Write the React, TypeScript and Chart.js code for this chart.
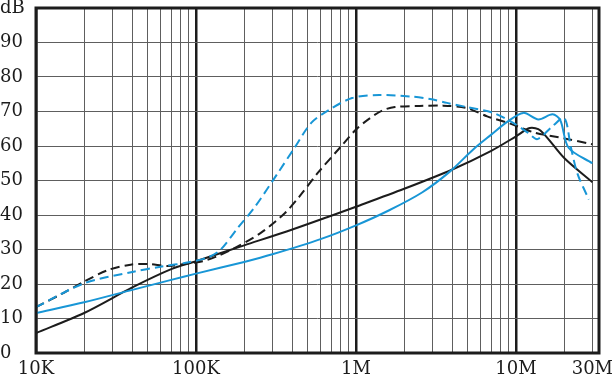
import React, { useEffect, useRef } from "react";
import { Chart, registerables } from "chart.js";

Chart.register(...registerables);

// Frequency axis (Hz) and tick labels
const xMin = 1e4;
const xMax = 3.3e7;
const xTickValues = [
  1e4, 2e4, 3e4, 4e4, 5e4, 6e4, 7e4, 8e4, 9e4,
  1e5, 2e5, 3e5, 4e5, 5e5, 6e5, 7e5, 8e5, 9e5,
  1e6, 2e6, 3e6, 4e6, 5e6, 6e6, 7e6, 8e6, 9e6,
  1e7, 2e7, 3e7,
];
const xLabelValues = [1e4, 1e5, 1e6, 1e7, 3e7];
const xLabelTexts = ["10K", "100K", "1M", "10M", "30M"];
const decadeValues = [1e4, 1e5, 1e6, 1e7];

// dB axis
const yMin = 0;
const yMax = 100;
const yStep = 10;
const yTopLabel = "dB";

// Series: black solid
const blackSolidFreq = [1e4, 2e4, 4e4, 7e4, 1e5, 2e5, 4e5, 7e5, 1e6, 2e6, 4e6, 7e6, 1e7, 1.22e7, 1.42e7, 2e7, 3e7];
const blackSolidDb = [5.8, 11.6, 19, 24.3, 26.6, 31.2, 35.8, 39.8, 42.4, 47.6, 53.2, 58.6, 62.8, 65.2, 64.5, 56.5, 49.5];

// Series: black dashed
const blackDashFreq = [1e4, 1.5e4, 2e4, 2.8e4, 3.9e4, 5e4, 6.8e4, 9e4, 1.1e5, 1.35e5, 1.74e5, 2.54e5, 3.6e5, 4.4e5, 5.82e5, 8e5, 1e6, 1.2e6, 1.46e6, 1.75e6, 2.5e6, 3.5e6, 4.9e6, 6.6e6, 9.2e6, 1.3e7, 2e7, 3e7];
const blackDashDb = [13.3, 17.5, 20.7, 24, 25.6, 25.8, 25.2, 26, 26.6, 28, 30.4, 34.8, 40.6, 45.2, 52.4, 59.7, 64.8, 67.8, 70.3, 71.3, 71.6, 71.7, 71, 68.6, 66.5, 63.9, 62.2, 60.5];

// Series: blue solid
const blueSolidFreq = [1e4, 2e4, 4e4, 7e4, 1e5, 2e5, 3e5, 6e5, 1e6, 1.6e6, 2.6e6, 3.84e6, 5.4e6, 7e6, 8.8e6, 1.11e7, 1.38e7, 1.69e7, 1.89e7, 2.13e7, 3e7];
const blueSolidDb = [11.6, 14.7, 18.3, 21.2, 23, 26.4, 28.6, 33, 37, 41.3, 46.6, 52.5, 59, 63.3, 67, 69.6, 67.7, 69.2, 67.5, 59.5, 55];

// Series: blue dashed
const blueDashFreq = [1e4, 2e4, 4e4, 6e4, 9e4, 1.2e5, 1.42e5, 1.82e5, 2.33e5, 3.25e5, 4.16e5, 5.25e5, 6.75e5, 9.45e5, 1.4e6, 2.25e6, 2.9e6, 3.7e6, 4.9e6, 7.2e6, 9.6e6, 1.19e7, 1.36e7, 1.67e7, 2e7, 2.2e7, 2.42e7, 2.85e7];
const blueDashDb = [13.3, 20.2, 23.5, 25, 26.3, 27.8, 29.9, 36.2, 42.3, 52.2, 59.7, 66.7, 70.4, 73.9, 74.8, 74.3, 73.6, 72.5, 71.3, 69.6, 66.7, 63.8, 62, 65.5, 68.1, 59.7, 52, 44.5];

const BLACK = "#1c1c1c";
const BLUE = "#1896d6";
const FONT = "'DejaVu Serif', 'Liberation Serif', serif";

const toPoints = (xs: number[], ys: number[]) => xs.map((x, i) => ({ x, y: ys[i] }));

const isDecade = (v: number | undefined) =>
  v !== undefined && decadeValues.some((d) => Math.abs(d - v) / d < 1e-6);

const framePlugin = {
  id: "frame",
  afterDatasetsDraw(chart: any) {
    const { ctx, chartArea } = chart;
    ctx.save();
    ctx.strokeStyle = BLACK;
    ctx.lineWidth = 3;
    ctx.strokeRect(chartArea.left, chartArea.top, chartArea.right - chartArea.left, chartArea.bottom - chartArea.top);
    ctx.restore();
  },
};

export default function App() {
  const ref = useRef<HTMLCanvasElement | null>(null);

  useEffect(() => {
    if (!ref.current) return;
    const line = (data: any, color: string, dashed: boolean) => ({
      data,
      borderColor: color,
      borderWidth: 2,
      borderDash: dashed ? [9, 5] : [],
      pointRadius: 0,
      fill: false,
      tension: 0.3,
    });
    const chart = new Chart(ref.current, {
      type: "line",
      data: {
        datasets: [
          line(toPoints(blueSolidFreq, blueSolidDb), BLUE, false),
          line(toPoints(blueDashFreq, blueDashDb), BLUE, true),
          line(toPoints(blackDashFreq, blackDashDb), BLACK, true),
          line(toPoints(blackSolidFreq, blackSolidDb), BLACK, false),
        ],
      },
      options: {
        animation: false,
        responsive: false,
        events: [],
        layout: { padding: { top: 8, right: 13, bottom: 0, left: 0 } },
        plugins: { legend: { display: false }, tooltip: { enabled: false } },
        scales: {
          x: {
            type: "logarithmic",
            min: xMin,
            max: xMax,
            border: { display: false },
            grid: {
              drawTicks: false,
              color: (c: any) => (isDecade(c.tick?.value) ? BLACK : "#5e5e5e"),
              lineWidth: (c: any) => (isDecade(c.tick?.value) ? 2.5 : 1),
            },
            afterBuildTicks: (axis: any) => {
              axis.ticks = xTickValues.map((v) => ({ value: v }));
            },
            afterFit: (axis: any) => {
              axis.height = 22;
              axis.paddingLeft = 0;
              axis.paddingRight = 0;
            },
            ticks: {
              autoSkip: false,
              maxRotation: 0,
              minRotation: 0,
              padding: 6,
              color: BLACK,
              font: { family: FONT, size: 18 },
              callback: (v: any) => {
                const i = xLabelValues.findIndex((d) => Math.abs(d - Number(v)) / d < 1e-6);
                return i >= 0 ? xLabelTexts[i] : "";
              },
            },
          },
          y: {
            type: "linear",
            min: yMin,
            max: yMax,
            border: { display: false },
            grid: { drawTicks: false, color: "#5e5e5e", lineWidth: 1 },
            afterFit: (axis: any) => {
              axis.width = 36;
              axis.paddingTop = 0;
              axis.paddingBottom = 0;
            },
            ticks: {
              stepSize: yStep,
              crossAlign: "far",
              padding: 0,
              color: BLACK,
              font: { family: FONT, size: 18 },
              callback: (v: any) => (Number(v) === yMax ? yTopLabel : String(v)),
            },
          },
        },
      },
      plugins: [framePlugin],
    } as any);
    return () => chart.destroy();
  }, []);

  return (
    <div style={{ position: "absolute", left: 0, top: 0, width: 612, height: 375, background: "#fff" }}>
      <canvas ref={ref} width={612} height={375} />
    </div>
  );
}
